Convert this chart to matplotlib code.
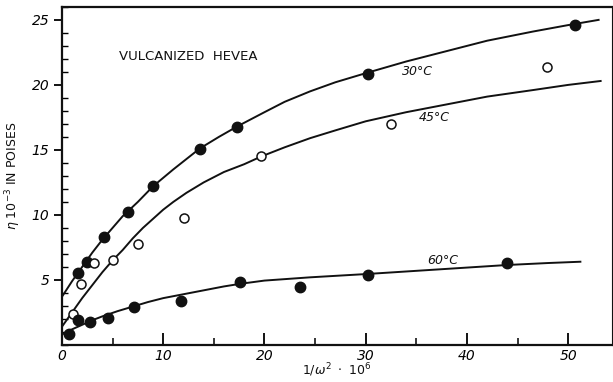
import matplotlib
matplotlib.use("Agg")
import matplotlib.pyplot as plt
from matplotlib.ticker import MultipleLocator

# measured points
x30 = [1.6, 2.5, 4.2, 6.5, 9.0, 13.6, 17.3, 30.2, 50.7]
y30 = [5.5, 6.4, 8.3, 10.2, 12.2, 15.1, 16.8, 20.8, 24.6]

x45 = [1.1, 1.9, 3.2, 5.0, 7.5, 12.1, 19.7, 32.5, 47.9]
y45 = [2.4, 4.7, 6.3, 6.5, 7.8, 9.8, 14.5, 17.0, 21.4]

x60 = [0.7, 1.6, 2.8, 4.6, 7.1, 11.8, 17.6, 23.5, 30.2, 44.0]
y60 = [0.85, 1.9, 1.75, 2.1, 2.9, 3.4, 4.85, 4.45, 5.4, 6.3]

# hand-drawn curves
cx30 = [0, 1, 2, 3, 4, 5, 6, 7.5, 9, 11, 13.6, 15.5, 17.3, 20, 22, 24.5, 27, 30,
        34, 38, 42, 46.5, 50, 53]
cy30 = [3.7, 4.9, 6.0, 7.1, 8.1, 9.0, 9.9, 11.0, 12.2, 13.5, 15.1, 16.0, 16.8, 17.9,
        18.7, 19.5, 20.2, 20.9, 21.8, 22.6, 23.4, 24.1, 24.6, 25.0]

cx45 = [0, 1, 2, 3, 4, 5, 6, 7, 8, 9, 10, 11, 12.3, 14, 16, 18, 19.7, 22, 24.5, 27,
        30, 34, 38, 42, 46.5, 50, 53.2]
cy45 = [1.4, 2.5, 3.6, 4.6, 5.6, 6.5, 7.3, 8.2, 9.0, 9.7, 10.4, 11.0, 11.7, 12.5,
        13.3, 13.9, 14.5, 15.2, 15.9, 16.5, 17.2, 17.9, 18.5, 19.1, 19.6, 20.0, 20.3]

cx60 = [0, 1, 2, 3, 4, 5.5, 7, 8.5, 10, 12, 14, 16, 17.6, 20, 24.5, 30, 35, 40, 44,
        48, 51.2]
cy60 = [0.8, 1.2, 1.55, 1.9, 2.2, 2.6, 2.95, 3.3, 3.6, 3.9, 4.2, 4.5, 4.7, 4.95,
        5.2, 5.45, 5.7, 5.95, 6.15, 6.3, 6.4]

fig = plt.figure(figsize=(6.13, 3.82), dpi=100, facecolor="white")
ax = fig.add_axes([0.101, 0.097, 0.897, 0.885])

ink = "#111111"
for cx, cy in [(cx30, cy30), (cx45, cy45), (cx60, cy60)]:
    ax.plot(cx, cy, color=ink, linewidth=1.4, solid_joinstyle="round")

ax.plot(x30, y30, "o", color=ink, markersize=7.5)
ax.plot(x45, y45, "o", markerfacecolor="white", markeredgecolor=ink, markeredgewidth=1.1, markersize=6.5)
ax.plot(x60, y60, "o", color=ink, markersize=7.5)

txt = dict(color=ink, style="italic", fontsize=9)
ax.text(12.5, 22.2, "VULCANIZED  HEVEA", ha="center", va="center", color=ink, fontsize=9.5)
ax.text(35.1, 21.0, "30°C", ha="center", va="center", **txt)
ax.text(36.8, 17.5, "45°C", ha="center", va="center", **txt)
ax.text(37.6, 6.5, "60°C", ha="center", va="center", **txt)

ax.set_xlim(0, 54.3)
ax.set_ylim(0, 26)
ax.xaxis.set_major_locator(MultipleLocator(10))
ax.xaxis.set_minor_locator(MultipleLocator(5))
ax.yaxis.set_minor_locator(MultipleLocator(1))
ax.set_yticks([5, 10, 15, 20, 25])

ax.tick_params(axis="x", which="major", direction="in", length=9, width=1.3, labelsize=10, pad=3)
ax.tick_params(axis="x", which="minor", direction="in", length=5, width=1.1)
ax.tick_params(axis="y", which="major", direction="out", length=6, width=1.3, labelsize=10, pad=3)
ax.tick_params(axis="y", which="minor", direction="in", length=4, width=1.0)
for lab in ax.get_xticklabels() + ax.get_yticklabels():
    lab.set_style("italic")

for side in ["left", "bottom", "top", "right"]:
    ax.spines[side].set_linewidth(1.6)
    ax.spines[side].set_color(ink)
ax.spines["right"].set_linewidth(0.8)

ax.set_xlabel(r"$1/\omega^2\ \cdot\ 10^6$", fontsize=9, color=ink, labelpad=-1)
ax.set_ylabel(r"$\eta\ 10^{-3}$ IN POISES", fontsize=9, color=ink, labelpad=6)

fig.savefig("out.png", dpi=100, facecolor="white")
